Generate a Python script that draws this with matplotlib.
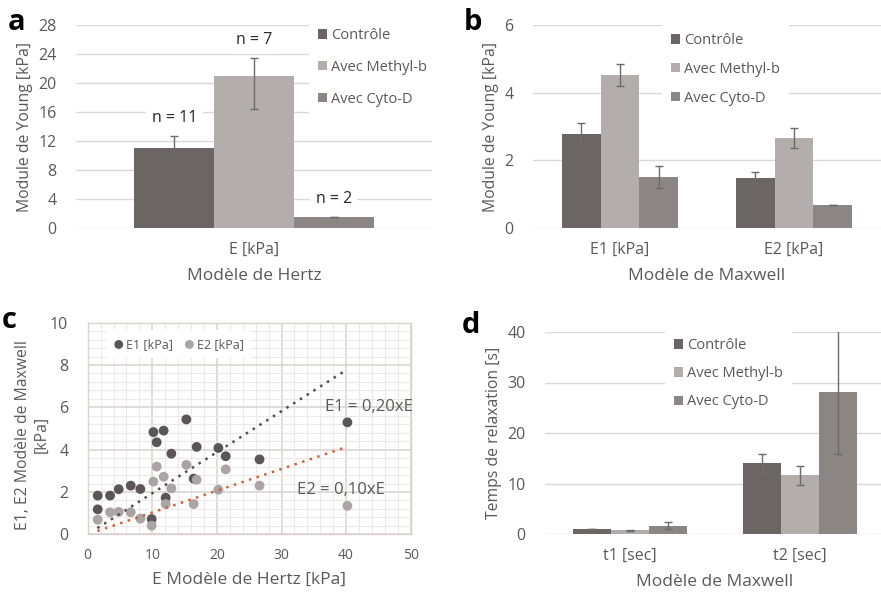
import matplotlib
matplotlib.use("Agg")
import matplotlib.pyplot as plt
import numpy as np
from matplotlib.ticker import MultipleLocator

plt.rcParams['font.family'] = ['Open Sans', 'DejaVu Sans']

# ---------------- data ----------------
groups = ["Contrôle", "Avec Methyl-b", "Avec Cyto-D"]
colors = ["#6b6664", "#b3adab", "#8b8583"]

# panel a (Hertz)
a_cats = ["E [kPa]"]
a_vals = [11.1, 21.0, 1.5]
a_err_lo = [1.6, 4.6, 0.05]
a_err_hi = [1.6, 2.4, 0.05]
a_n = ["n = 11", "n = 7", "n = 2"]

# panel b (Maxwell moduli)
b_cats = ["E1 [kPa]", "E2 [kPa]"]
b_vals = {"Contrôle": [2.77, 1.49], "Avec Methyl-b": [4.53, 2.65], "Avec Cyto-D": [1.50, 0.68]}
b_errs = {"Contrôle": [0.33, 0.16], "Avec Methyl-b": [0.33, 0.30], "Avec Cyto-D": [0.33, 0.01]}

# panel d (relaxation times)
d_cats = ["t1 [sec]", "t2 [sec]"]
d_vals = {"Contrôle": [0.99, 14.1], "Avec Methyl-b": [0.72, 11.6], "Avec Cyto-D": [1.64, 28.1]}
d_errs = {"Contrôle": [0.08, 1.75], "Avec Methyl-b": [0.15, 1.95], "Avec Cyto-D": [0.7, 12.2]}

# panel c (scatter)
e_hertz = [1.55, 1.55, 3.46, 4.8, 6.66, 8.15, 9.9, 10.17, 10.68, 11.76, 12.07, 12.95,
           15.27, 16.4, 16.87, 20.23, 21.36, 26.6, 40.2]
e1_vals = [1.83, 1.18, 1.83, 2.13, 2.30, 2.14, 0.72, 4.83, 4.35, 4.90, 1.73, 3.81,
           5.43, 2.63, 4.13, 4.08, 3.69, 3.54, 5.29]
e2_vals = [0.69, None, 1.04, 1.06, 1.04, 0.74, 0.41, 2.49, 3.20, 2.72, 1.43, 2.17,
           3.28, 1.43, 2.58, 2.11, 3.07, 2.30, 1.35]
trend_slopes = [0.194, 0.103]
trend_range = [1.5, 40.0]
trend_labels = ["E1 = 0,20xE", "E2 = 0,10xE"]

TXT = "#595959"
GRID = "#d9d9d9"

W, H = 881, 601
fig = plt.figure(figsize=(W / 100, H / 100), dpi=100)


def add_ax(l, t, r, b):
    return fig.add_axes([l / W, 1 - b / H, (r - l) / W, (b - t) / H])


def style_bar_ax(ax, ymax, step, ylabel, xlabel, cats):
    ax.set_ylim(0, ymax)
    ax.set_yticks(np.arange(0, ymax + 0.01, step))
    ax.set_xlim(-0.5, len(cats) - 0.5)
    ax.set_xticks(range(len(cats)))
    ax.set_xticklabels(cats)
    for s in ax.spines.values():
        s.set_visible(False)
    ax.yaxis.grid(True, color=GRID, lw=1.0)
    ax.set_axisbelow(True)
    ax.tick_params(axis='both', length=0, colors=TXT, labelsize=11.5)
    ax.tick_params(axis='y', pad=14)
    ax.tick_params(axis='x', pad=10)
    ax.set_ylabel(ylabel, color=TXT, fontsize=11.3)
    ax.set_xlabel(xlabel, color=TXT, fontsize=12.5, labelpad=7)


def legend(ax, loc_xy, spacing):
    handles = [plt.Rectangle((0, 0), 1, 1, fc=c, ec='none') for c in colors]
    lg = ax.legend(handles, groups, loc='upper left', bbox_to_anchor=loc_xy,
                   bbox_transform=fig.transFigure, frameon=True, fancybox=False,
                   handlelength=0.6, handleheight=0.6, handletextpad=0.3,
                   labelspacing=spacing, fontsize=10.5, borderpad=0.6)
    lg.get_frame().set_facecolor('white')
    lg.get_frame().set_edgecolor('none')
    lg.get_frame().set_alpha(1)
    for t in lg.get_texts():
        t.set_color(TXT)
    lg.set_zorder(5)


bw = 0.224

# ---------------- panel a ----------------
axa = add_ax(76, 25, 432, 228)
style_bar_ax(axa, 28, 4, "Module de Young [kPa]", "Modèle de Hertz", a_cats)
for i, g in enumerate(groups):
    x = (i - 1) * bw
    axa.bar(x, a_vals[i], bw, color=colors[i], zorder=2)
    axa.errorbar(x, a_vals[i], yerr=[[a_err_lo[i]], [a_err_hi[i]]], fmt='none',
                 ecolor='#6b6b6b', elinewidth=1.0, capsize=3, capthick=1.0, zorder=3)
    axa.annotate(a_n[i], (x, a_vals[i] + a_err_hi[i]), xytext=(0, 13),
                 textcoords='offset points', ha='center', va='center',
                 fontsize=11.5, color='#262626', zorder=4,
                 bbox=dict(fc='white', ec='none', pad=4))
legend(axa, (302 / W, 1 - 12 / H), 1.15)

# ---------------- panel b ----------------
axb = add_ax(533, 25, 881, 228)
style_bar_ax(axb, 6, 2, "Module de Young [kPa]", "Modèle de Maxwell", b_cats)
for i, g in enumerate(groups):
    xs = np.arange(len(b_cats)) + (i - 1) * bw
    axb.bar(xs, b_vals[g], bw, color=colors[i], zorder=2)
    axb.errorbar(xs, b_vals[g], yerr=b_errs[g], fmt='none', ecolor='#6b6b6b',
                 elinewidth=1.0, capsize=3, capthick=1.0, zorder=3)
legend(axb, (655 / W, 1 - 17 / H), 0.95)

# ---------------- panel d ----------------
axd = add_ax(545, 332, 885, 534)
style_bar_ax(axd, 40, 10, "Temps de relaxation [s]", "Modèle de Maxwell", d_cats)
for i, g in enumerate(groups):
    xs = np.arange(len(d_cats)) + (i - 1) * bw
    axd.bar(xs, d_vals[g], bw, color=colors[i], zorder=2)
    axd.errorbar(xs, d_vals[g], yerr=d_errs[g], fmt='none', ecolor='#6b6b6b',
                 elinewidth=1.0, capsize=3, capthick=1.0, zorder=3, clip_on=True)
legend(axd, (658 / W, 1 - 322 / H), 0.9)

# ---------------- panel c ----------------
axc = add_ax(87.7, 322.7, 410.7, 534.3)
axc.set_xlim(0, 50)
axc.set_ylim(0, 10)
axc.xaxis.set_major_locator(MultipleLocator(10))
axc.xaxis.set_minor_locator(MultipleLocator(2))
axc.yaxis.set_major_locator(MultipleLocator(2))
axc.yaxis.set_minor_locator(MultipleLocator(0.4))
axc.grid(True, which='major', color='#d9d2d0', lw=1.1)
axc.grid(True, which='minor', color='#ede9e8', lw=0.8)
axc.set_axisbelow(True)
for s in axc.spines.values():
    s.set_color('#d9d2d0')
    s.set_linewidth(1.0)
axc.tick_params(which='both', length=0, colors=TXT)
axc.tick_params(axis='x', labelsize=10, pad=10)
axc.tick_params(axis='y', labelsize=11.5, pad=14)

x1 = [x for x, v in zip(e_hertz, e1_vals) if v is not None]
y1 = [v for v in e1_vals if v is not None]
x2 = [x for x, v in zip(e_hertz, e2_vals) if v is not None]
y2 = [v for v in e2_vals if v is not None]
s1 = axc.scatter(x1, y1, s=50, color='#5a5657', edgecolors='none', zorder=3)
s2 = axc.scatter(x2, y2, s=50, color='#aaa4a3', edgecolors='none', zorder=3)
tx = np.array(trend_range)
axc.plot(tx, trend_slopes[0] * tx, ls=(0, (1, 2.2)), color='#4f4f4f', lw=1.8, zorder=4)
axc.plot(tx, trend_slopes[1] * tx, ls=(0, (1, 2.2)), color='#d0613f', lw=1.8, zorder=4)
axc.text(36.7, 6.0, trend_labels[0], fontsize=12, color=TXT, va='center', ha='left', zorder=5)
axc.text(32.4, 2.09, trend_labels[1], fontsize=12, color=TXT, va='center', ha='left', zorder=5)

lgc = axc.legend([s1, s2], ["E1 [kPa]", "E2 [kPa]"], loc='upper left',
                 bbox_to_anchor=(100 / W, 1 - 324 / H), bbox_transform=fig.transFigure,
                 ncol=2, frameon=True, fancybox=False, fontsize=9,
                 handlelength=0.8, handletextpad=0.2, columnspacing=0.9,
                 borderpad=0.6, markerscale=0.9)
lgc.get_frame().set_facecolor('white')
lgc.get_frame().set_edgecolor('none')
lgc.get_frame().set_alpha(1)
for t in lgc.get_texts():
    t.set_color(TXT)
axc.set_xlabel("E Modèle de Hertz [kPa]", color=TXT, fontsize=12.5, labelpad=6)
axc.set_ylabel("E1, E2 Modèle de Maxwell\n[kPa]", color=TXT, fontsize=11.3,
               linespacing=1.2, labelpad=4)
axc.yaxis.set_label_coords(-0.118, 0.47, transform=axc.transAxes)

# panel letters
for lbl, x, y in [("a", 8, 30), ("b", 464, 30), ("c", 2, 328), ("d", 462, 333)]:
    fig.text(x / W, 1 - y / H, lbl, fontsize=21, fontweight='bold', color='black',
             ha='left', va='baseline')

fig.savefig("out.png", dpi=100)
